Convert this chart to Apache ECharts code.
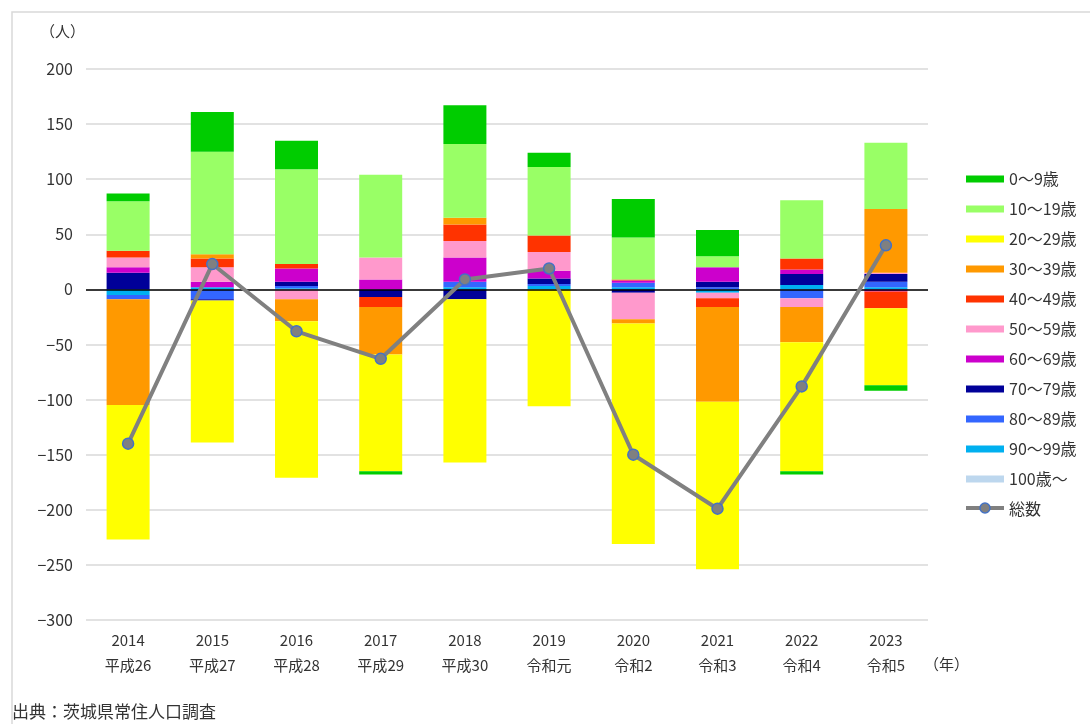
<!DOCTYPE html>
<html>
<head>
<meta charset="utf-8">
<script src="https://cdn.jsdelivr.net/npm/echarts@6/dist/echarts.min.js"></script>
<style>
html,body{margin:0;padding:0;background:#fff;}
#chart{position:absolute;left:0;top:0;width:1090px;height:724px;}
</style>
</head>
<body>
<div id="chart"></div>
<script>
const years = ['2014\n平成26','2015\n平成27','2016\n平成28','2017\n平成29','2018\n平成30','2019\n令和元','2020\n令和2','2021\n令和3','2022\n令和4','2023\n令和5'];

const age0_9   = [7, 36, 26, -3, 35, 13, 35, 24, -3, -5];
const age10_19 = [45, 93, 86, 75, 67, 62, 38, 10, 53, 60];
const age20_29 = [-122, -129, -142, -106, -148, -106, -200, -152, -117, -70];
const age30_39 = [-96, 4, -20, -43, 6, 0, -4, -86, -32, 58];
const age40_49 = [6, 8, 4, -9, 15, 15, 1, -8, 10, -15];
const age50_59 = [9, 13, -9, 20, 15, 17, -24, -5, -8, 1];
const age60_69 = [5, 5, 12, 9, 22, 7, 2, 13, 4, -2];
const age70_79 = [15, -1, 4, -7, -9, 5, -3, 5, 10, 7];
const age80_89 = [-4, -9, 2, 0, 5, 2, 4, 2, -8, 5];
const age90_99 = [-5, 2, 1, 0, 2, 3, 2, -3, 4, 2];
const age100   = [0, 0, 0, 0, 0, 0, 0, 0, 0, 0];
const total    = [-140, 23, -38, -63, 9, 19, -150, -199, -88, 40];

const legendNames = ['0～9歳','10～19歳','20～29歳','30～39歳','40～49歳','50～59歳','60～69歳','70～79歳','80～89歳','90～99歳','100歳～','総数'];

const FONT = '"Noto Sans CJK JP", "Noto Sans", sans-serif';

// stacking order from zero outward: 100歳～ first, 0～9歳 last
const barDefs = [
  {name:'100歳～', data:age100, color:'#bdd7ee'},
  {name:'90～99歳', data:age90_99, color:'#00b0f0'},
  {name:'80～89歳', data:age80_89, color:'#3366ff'},
  {name:'70～79歳', data:age70_79, color:'#000099'},
  {name:'60～69歳', data:age60_69, color:'#cc00cc'},
  {name:'50～59歳', data:age50_59, color:'#ff99cc'},
  {name:'40～49歳', data:age40_49, color:'#ff3300'},
  {name:'30～39歳', data:age30_39, color:'#ff9900'},
  {name:'20～29歳', data:age20_29, color:'#ffff00'},
  {name:'10～19歳', data:age10_19, color:'#99ff66'},
  {name:'0～9歳', data:age0_9, color:'#00cc00'}
];

const series = barDefs.map(d => ({
  name: d.name,
  type: 'bar',
  stack: 'pop',
  barWidth: 43,
  data: d.data,
  itemStyle: {color: d.color},
  emphasis: {disabled: true}
}));

series.push({
  name: '総数',
  type: 'line',
  data: total,
  z: 5,
  lineStyle: {color: '#808080', width: 4},
  itemStyle: {color: '#808080', borderColor: '#4472c4', borderWidth: 1.5},
  symbol: 'circle',
  symbolSize: 11,
  emphasis: {disabled: true},
  markLine: {
    silent: true,
    symbol: ['none','none'],
    label: {show: false},
    lineStyle: {color: '#000', type: 'solid', width: 1.5},
    data: [{yAxis: 0}],
    z: 3
  }
});

const chart = echarts.init(document.getElementById('chart'), null, {renderer: 'canvas'});
chart.setOption({
  animation: false,
  backgroundColor: '#fff',
  textStyle: {fontFamily: FONT},
  grid: {left: 86, right: 162, top: 69, bottom: 104, containLabel: false},
  xAxis: {
    type: 'category',
    data: years,
    axisLine: {show: false, onZero: false},
    axisTick: {show: false},
    axisLabel: {color: '#333', fontSize: 15, lineHeight: 25, margin: 8, fontFamily: FONT, interval: 0}
  },
  yAxis: {
    type: 'value',
    min: -300, max: 200, interval: 50,
    axisLine: {show: false},
    axisTick: {show: false},
    splitLine: {lineStyle: {color: '#d9d9d9', width: 1.5}},
    axisLabel: {
      color: '#333', fontSize: 16, margin: 13, fontFamily: FONT,
      formatter: v => String(v).replace('-', '−')
    }
  },
  legend: {
    orient: 'vertical',
    left: 961,
    top: 165,
    itemWidth: 38,
    itemHeight: 7,
    itemGap: 12,
    icon: 'rect',
    data: legendNames.map(n => n === '総数' ? {name: n, icon: 'none'} : {name: n}),
    textStyle: {color: '#333', fontSize: 16, lineHeight: 18, fontFamily: FONT},
    selectedMode: false
  },
  graphic: [
    {type: 'rect', shape: {x: 12, y: 12, width: 1200, height: 900}, style: {fill: 'none', stroke: '#d9d9d9', lineWidth: 1.5}, silent: true},
    {type: 'text', left: 40, top: 24, style: {text: '（人）', fontSize: 15, fill: '#333', fontFamily: FONT}},
    {type: 'text', left: 924, top: 657, style: {text: '（年）', fontSize: 15, fill: '#333', fontFamily: FONT}},
    {type: 'text', left: 12, top: 703, style: {text: '出典：茨城県常住人口調査', fontSize: 17, fill: '#333', fontFamily: FONT}},
    // legend line icon for 総数
    {type: 'line', shape: {x1: 966, y1: 508, x2: 1004, y2: 508}, style: {stroke: '#808080', lineWidth: 4}, z: 10},
    {type: 'circle', shape: {cx: 985, cy: 508, r: 5}, style: {fill: '#808080', stroke: '#4472c4', lineWidth: 1.5}, z: 11}
  ],
  series: series
});
</script>
</body>
</html>
